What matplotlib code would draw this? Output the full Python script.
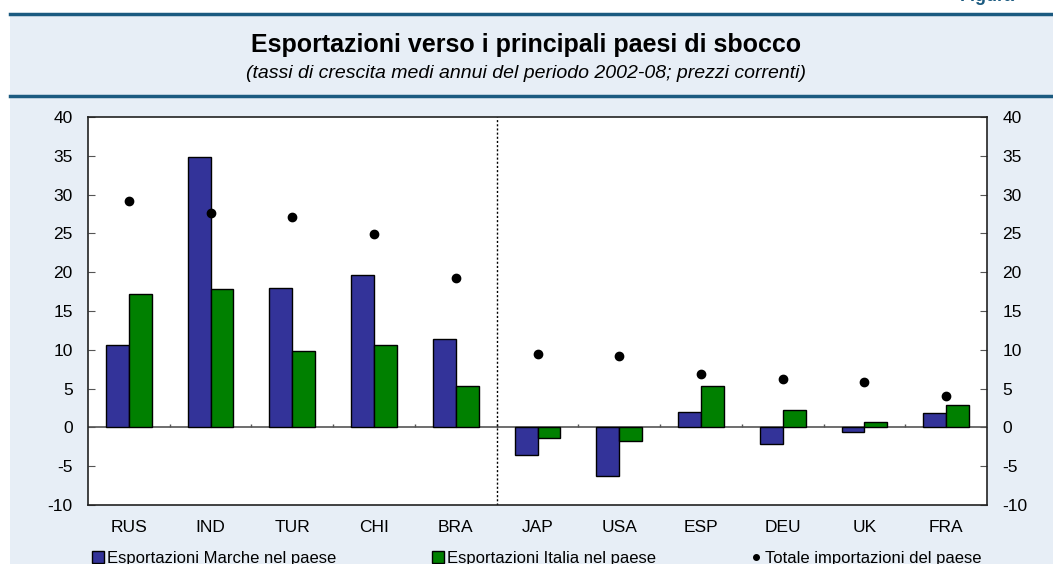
import matplotlib.pyplot as plt
from matplotlib.patches import Rectangle
from matplotlib.lines import Line2D
import numpy as np

plt.rcParams["font.family"] = ["Liberation Sans", "DejaVu Sans"]
plt.rcParams["axes.unicode_minus"] = False

countries = ["RUS", "IND", "TUR", "CHI", "BRA", "JAP", "USA", "ESP", "DEU", "UK", "FRA"]
marche = [10.6, 34.8, 17.9, 19.6, 11.4, -3.6, -6.2, 2.0, -2.1, -0.6, 1.8]
italia = [17.2, 17.8, 9.9, 10.6, 5.3, -1.4, -1.7, 5.3, 2.3, 0.7, 2.9]
totale = [29.2, 27.6, 27.1, 24.9, 19.2, 9.4, 9.2, 6.9, 6.2, 5.9, 4.0]
yticks = list(range(-10, 45, 5))

BLUE = "#333399"
GREEN = "#008000"
BG = "#E7EEF6"
NAVY = "#1B5A80"

W, H = 1053, 564
fig = plt.figure(figsize=(W / 100, H / 100), dpi=100)
fig.patch.set_facecolor("white")

# light blue panel and the two rules of the header
fig.add_artist(Rectangle((10 / W, 0), 1, 1 - 14 / H, transform=fig.transFigure,
                         facecolor=BG, edgecolor="none", zorder=0))
for ypix in (14, 96):
    fig.add_artist(Line2D([10 / W, 1], [1 - ypix / H] * 2, transform=fig.transFigure,
                          color=NAVY, linewidth=2.5))
# figure label, mostly cut off by the top edge as in the source
fig.text(1015 / W, 1 - 1 / H, "Figura", ha="right", va="baseline", color=NAVY,
         fontsize=13, fontweight="bold")

fig.text(0.5, 1 - 45 / H, "Esportazioni verso i principali paesi di sbocco",
         ha="center", va="center", fontsize=18, fontweight="bold")
fig.text(0.5, 1 - 74 / H, "(tassi di crescita medi annui del periodo 2002-08; prezzi correnti)",
         ha="center", va="center", fontsize=14, fontstyle="italic")

ax = fig.add_axes([88 / W, 1 - 505 / H, (987 - 88) / W, (505 - 117) / H])
x = np.arange(len(countries))
bw = 0.28
ax.bar(x - bw / 2, marche, bw, color=BLUE, edgecolor="black", linewidth=1, zorder=3)
ax.bar(x + bw / 2, italia, bw, color=GREEN, edgecolor="black", linewidth=1, zorder=3)
ax.plot(x, totale, "o", color="black", markersize=6, zorder=4)

ax.axhline(0, color="#555555", linewidth=1.2, zorder=2)
ax.vlines(np.arange(0.5, len(countries) - 0.5), 0, 0.5, color="#555555", linewidth=1, zorder=2)
ax.axvline(4.5, color="black", linestyle=(0, (1.5, 1.5)), linewidth=1, zorder=2)

ax.set_xlim(-0.5, len(countries) - 0.5)
ax.set_ylim(-10, 40)
ax.set_yticks(yticks)
ax.set_xticks(x)
ax.set_xticklabels(countries)
ax.tick_params(axis="x", length=0, pad=11, labelsize=12.5)
ax.tick_params(axis="y", direction="in", length=5, color="#555555", labelsize=12.5,
               left=True, right=True, labelleft=True, labelright=True, pad=11)
for s in ax.spines.values():
    s.set_linewidth(1.2)
    s.set_color("#222222")

handles = [
    (Rectangle((0, 0), 1, 1, facecolor=BLUE, edgecolor="black"), "Esportazioni Marche nel paese", 92),
    (Rectangle((0, 0), 1, 1, facecolor=GREEN, edgecolor="black"), "Esportazioni Italia nel paese", 432),
    (Line2D([], [], marker="o", color="black", linestyle="none", markersize=4), "Totale importazioni del paese", 750),
]
for h, lab, xpix in handles:
    fig.legend([h], [lab], loc="center left", bbox_to_anchor=(xpix / W, 1 - 558 / H),
               frameon=False, fontsize=12, handlelength=0.7, handleheight=0.7,
               handletextpad=0.2, borderpad=0, borderaxespad=0)

fig.savefig("out.png", dpi=100)
